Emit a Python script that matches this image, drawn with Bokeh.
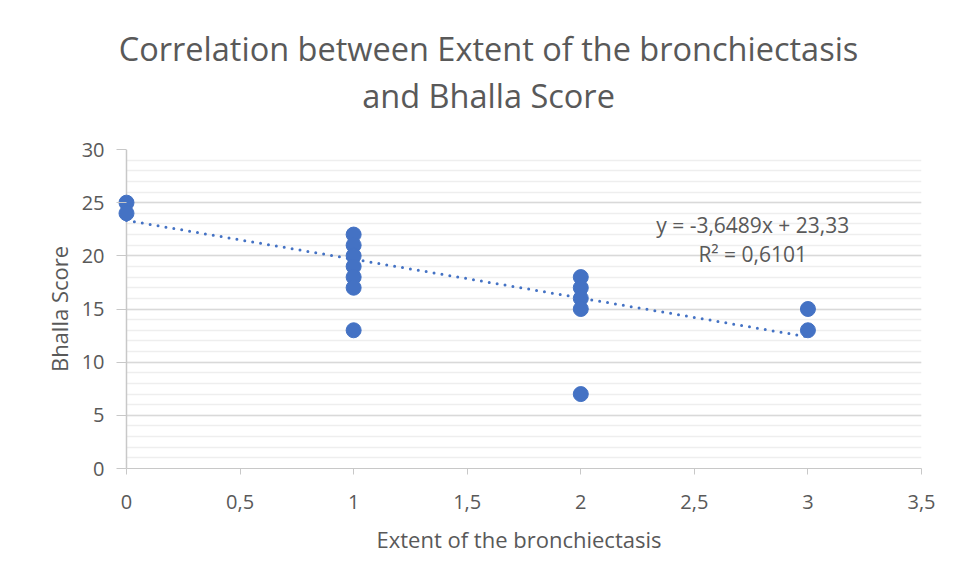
from bokeh.plotting import figure
from bokeh.layouts import column
from bokeh.models import (Range1d, FixedTicker, Label, ColumnDataSource)
from bokeh.embed import file_html
from bokeh.resources import INLINE

# ---- data ----
extent = [0, 0, 1, 1, 1, 1, 1, 1, 1, 2, 2, 2, 2, 2, 3, 3]
bhalla = [25, 24, 22, 21, 20, 19, 18, 17, 13, 18, 17, 16, 15, 7, 15, 13]
trend_slope = -3.6489
trend_intercept = 23.33
trend_r2 = 0.6101
x_ticks = [0, 0.5, 1, 1.5, 2, 2.5, 3, 3.5]
x_tick_labels = ["0", "0,5", "1", "1,5", "2", "2,5", "3", "3,5"]
y_ticks = [0, 5, 10, 15, 20, 25, 30]
y_minor = list(range(0, 31))
title_line1 = "Correlation between Extent of the bronchiectasis"
title_line2 = "and Bhalla Score"
x_label = "Extent of the bronchiectasis"
y_label = "Bhalla Score"

FONT = "Open Sans"
TXT = "#595959"
BLUE = "#4472C4"
AXC = "#c8c8c8"
W = 938
TOP_H = 130
X_RANGE = (-0.044, 3.5)

# ---- title strip (its own figure, no axes) ----
pt = figure(width=W, height=TOP_H, output_backend="svg", toolbar_location=None,
            x_range=Range1d(*X_RANGE), y_range=Range1d(0, TOP_H),
            min_border_left=116, min_border_right=17, min_border_top=0,
            min_border_bottom=0, title=None)
pt.axis.visible = False
pt.grid.visible = False
pt.outline_line_color = None
pt.background_fill_color = "white"
pt.border_fill_color = "white"
title_x = 1.594
pt.add_layout(Label(x=title_x, y=TOP_H - 48, text=title_line1, text_align="center",
                    text_baseline="middle", text_font=FONT, text_font_size="32.5px",
                    text_color=TXT))
pt.add_layout(Label(x=title_x, y=TOP_H - 95, text=title_line2, text_align="center",
                    text_baseline="middle", text_font=FONT, text_font_size="32.5px",
                    text_color=TXT))

# ---- chart ----
p = figure(width=W, height=568 - TOP_H, output_backend="svg", toolbar_location=None,
           x_range=Range1d(*X_RANGE), y_range=Range1d(y_ticks[0], y_ticks[-1]),
           min_border_left=116, min_border_right=17, min_border_top=149 - TOP_H,
           min_border_bottom=100, title=None)
p.outline_line_color = None
p.background_fill_color = "white"
p.border_fill_color = "white"

# axes
p.xaxis.ticker = FixedTicker(ticks=x_ticks)
p.xaxis.major_label_overrides = {t: l for t, l in zip(x_ticks, x_tick_labels)}
p.xaxis.bounds = (x_ticks[0], x_ticks[-1])
p.yaxis.ticker = FixedTicker(ticks=y_ticks, minor_ticks=y_minor)
for ax in (p.xaxis, p.yaxis):
    ax.axis_line_color = AXC
    ax.major_tick_line_color = AXC
    ax.minor_tick_line_color = None
    ax.major_label_text_font = FONT
    ax.major_label_text_font_size = "20px"
    ax.major_label_text_color = TXT
    ax.axis_label_text_font = FONT
    ax.axis_label_text_font_size = "22px"
    ax.axis_label_text_color = TXT
    ax.axis_label_text_font_style = "normal"
p.xaxis.major_tick_out = 6
p.xaxis.major_tick_in = 0
p.yaxis.axis_line_color = None
p.yaxis.major_tick_out = 0
p.yaxis.major_tick_in = 10
p.xaxis.axis_label = x_label
p.yaxis.axis_label = y_label
p.xaxis.major_label_standoff = 20
p.xaxis.axis_label_standoff = 12
p.yaxis.major_label_standoff = 8
p.yaxis.axis_label_standoff = 5

# grids
p.xgrid.visible = False
p.ygrid.grid_line_color = "#d9d9d9"
p.ygrid.grid_line_width = 1.5
p.ygrid.minor_grid_line_color = "#eeeeee"
p.ygrid.minor_grid_line_width = 1.5
p.ygrid.cross_bounds = (x_ticks[0], x_ticks[-1])

# y axis line at x = 0
p.line([x_ticks[0], x_ticks[0]], [y_ticks[0], y_ticks[-1]], line_color=AXC, line_width=1.5)

# trendline
tx = [min(extent), max(extent)]
ty = [trend_intercept + trend_slope * v for v in tx]
p.line(tx, ty, line_color=BLUE, line_width=3, line_dash="0 8", line_cap="round")

# points
src = ColumnDataSource(dict(x=extent, y=bhalla))
p.scatter("x", "y", source=src, size=15, fill_color=BLUE, line_color=BLUE)

# equation
eq1 = "y = " + f"{trend_slope:.4f}".replace(".", ",") + "x + " + f"{trend_intercept:.2f}".replace(".", ",")
eq2 = "R² = " + f"{trend_r2:.4f}".replace(".", ",")
p.add_layout(Label(x=2.757, y=22.86, text=eq1, text_align="center", text_baseline="middle",
                   text_font=FONT, text_font_size="21px", text_color=TXT))
p.add_layout(Label(x=2.757, y=20.13, text=eq2, text_align="center", text_baseline="middle",
                   text_font=FONT, text_font_size="21px", text_color=TXT))

layout = column(pt, p, spacing=0)
open("out.html", "w").write(file_html(layout, INLINE))
